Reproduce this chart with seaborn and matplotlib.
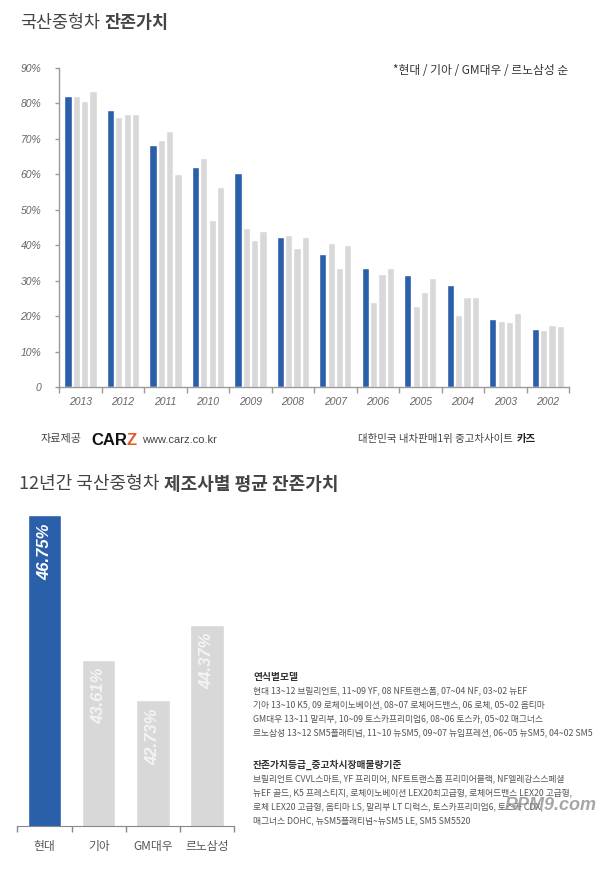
import numpy as np
import pandas as pd
import seaborn as sns
import matplotlib.pyplot as plt

years = ['2013', '2012', '2011', '2010', '2009', '2008', '2007', '2006', '2005', '2004', '2003', '2002']
makers = ['현대', '기아', 'GM대우', '르노삼성']
hyundai = [81.9, 78.2, 68.2, 61.9, 60.3, 42.2, 37.5, 33.5, 31.6, 28.7, 19.3, 16.4]
kia = [81.9, 76.0, 69.5, 64.6, 44.8, 43.0, 40.6, 23.9, 22.8, 20.3, 18.7, 16.1]
gmdaewoo = [80.7, 76.9, 72.2, 47.2, 41.4, 39.2, 33.7, 31.9, 26.8, 25.4, 18.3, 17.6]
renault = [83.3, 77.1, 60.0, 56.4, 44.0, 42.2, 40.1, 33.7, 30.8, 25.4, 20.8, 17.4]
avg_values = [46.75, 43.61, 42.73, 44.37]
y_ticks = [0, 10, 20, 30, 40, 50, 60, 70, 80, 90]

model_lines = [
    '현대 13~12 브릴리언트, 11~09 YF, 08 NF트랜스폼, 07~04 NF, 03~02 뉴EF',
    '기아 13~10 K5, 09 로체이노베이션, 08~07 로체어드밴스, 06 로체, 05~02 옵티마',
    'GM대우 13~11 말리부, 10~09 토스카프리미엄6, 08~06 토스카, 05~02 매그너스',
    '르노삼성 13~12 SM5플래티넘, 11~10 뉴SM5, 09~07 뉴임프레션, 06~05 뉴SM5, 04~02 SM5',
]
grade_lines = [
    '브릴리언트 CVVL스마트, YF 프리미어, NF트트랜스폼 프리미어블랙, NF엘레강스스페셜',
    '뉴EF 골드, K5 프레스티지, 로체이노베이션 LEX20최고급형, 로체어드밴스 LEX20 고급형,',
    '로체 LEX20 고급형, 옵티마 LS, 말리부 LT 디럭스, 토스카프리미엄6, 토스카 CDX,',
    '매그너스 DOHC, 뉴SM5플래티넘~뉴SM5 LE, SM5 SM5520',
]

BLUE = '#2A5FA9'
GRAY = '#D8D8D8'
AXIS = '#9A9A9A'
TXT = '#555555'

sns.set_style('white')
plt.rcParams['font.family'] = ['Noto Sans CJK KR', 'DejaVu Sans']

W, H = 600, 874
fig = plt.figure(figsize=(6, 8.74), dpi=100)
renderer = fig.canvas.get_renderer()


def fx(px):
    return px / W


def fy(py):
    return 1 - py / H


def draw_pieces(x_px, y_px, pieces, size, gap=0):
    # texts with different weights/colours one after another
    x = x_px
    for txt, weight, color in pieces:
        t = fig.text(fx(x), fy(y_px), txt, fontsize=size, fontweight=weight,
                     color=color, ha='left', va='center')
        bb = t.get_window_extent(renderer=renderer)
        x = bb.x1 + gap


# ---- top chart ----
df = pd.DataFrame({
    'year': years * 4,
    'maker': np.repeat(makers, len(years)),
    'value': hyundai + kia + gmdaewoo + renault,
})

ax = fig.add_axes([fx(59.3), fy(387.3), fx(569) - fx(59.3), (387.3 - 67.7) / H])
sns.barplot(data=df, x='year', y='value', hue='maker', order=years, hue_order=makers,
            palette=[BLUE, GRAY, GRAY, GRAY], saturation=1, width=0.785, gap=0.14,
            legend=False, ax=ax)
ax.set_xlim(-0.5, len(years) - 0.5)
ax.set_ylim(0, 90)
ax.set_xlabel('')
ax.set_ylabel('')
sns.despine(ax=ax)
for s in ['left', 'bottom']:
    ax.spines[s].set_color(AXIS)
    ax.spines[s].set_linewidth(1)

ax.set_xticks(np.arange(-0.5, len(years), 1))
ax.set_xticklabels([])
ax.set_xticks(range(len(years)), minor=True)
ax.set_xticklabels(years, minor=True, fontsize=7.5, style='italic',
                   family='Liberation Sans', color='#666666')
ax.tick_params(axis='x', which='major', length=4, width=1, color=AXIS, bottom=True)
ax.tick_params(axis='x', which='minor', length=0, pad=7)
ax.set_yticks(y_ticks)
ax.set_yticklabels(['0'] + [f'{v}%' for v in y_ticks[1:]], fontsize=7.5, style='italic',
                   family='Liberation Sans', color='#666666')
ax.tick_params(axis='y', length=3, width=1, color=AXIS, left=True, pad=10)

draw_pieces(20, 23, [('국산중형차', 'normal', '#444444'), ('잔존가치', 'bold', '#444444')], 12.5, gap=5)
fig.text(fx(568), fy(70), '*현대 / 기아 / GM대우 / 르노삼성 순', fontsize=8.5,
         color='#333333', ha='right', va='center')

# footer
draw_pieces(41, 439, [('자료제공', 'normal', '#444444')], 8)
t1 = fig.text(fx(91), fy(440), 'CAR', fontsize=12, fontweight='heavy',
              family='Liberation Sans', color='#111111', ha='left', va='center')
bb = t1.get_window_extent(renderer=renderer)
t2 = fig.text(fx(bb.x1), fy(440), 'Z', fontsize=12, fontweight='heavy',
              family='Liberation Sans', color='#E8562A', ha='left', va='center')
bb = t2.get_window_extent(renderer=renderer)
fig.text(fx(bb.x1 + 5), fy(440), 'www.carz.co.kr', fontsize=8,
         family='Liberation Sans', color='#444444', ha='left', va='center')
draw_pieces(358, 439, [('대한민국 내차판매1위 중고차사이트', 'normal', '#444444'),
                       ('카즈', 'bold', '#222222')], 7.5, gap=4)

# ---- bottom chart ----
draw_pieces(19, 484, [('12년간 국산중형차', 'normal', '#444444'),
                      ('제조사별 평균 잔존가치', 'bold', '#444444')], 13, gap=5)

ax2 = fig.add_axes([fx(17.3), fy(826), fx(234.3) - fx(17.3), 322 / H])
sns.barplot(x=makers, y=avg_values, hue=makers, palette=[BLUE, GRAY, GRAY, GRAY],
            saturation=1, width=0.62, legend=False, ax=ax2)
ax2.set_xlim(-0.5, len(makers) - 0.5)
ax2.set_ylim(40, 47)
ax2.set_yticks([])
ax2.set_xlabel('')
ax2.set_ylabel('')
sns.despine(ax=ax2, left=True)
ax2.spines['bottom'].set_color('#888888')
ax2.set_xticks(np.arange(-0.5, len(makers), 1))
ax2.set_xticklabels([])
ax2.set_xticks(range(len(makers)), minor=True)
ax2.set_xticklabels(makers, minor=True, fontsize=8.5, color=TXT)
ax2.tick_params(axis='x', which='major', length=4, width=1, color='#888888', bottom=True)
ax2.tick_params(axis='x', which='minor', length=0, pad=10)

for i, v in enumerate(avg_values):
    ax2.text(i, v - 0.17, f'{v:.2f}%', rotation=90, ha='center', va='top',
             fontsize=12, fontweight='bold', style='italic', family='Liberation Sans',
             color='white' if i == 0 else '#F4F4F4')

# notes
fig.text(fx(253), fy(677), '연식별모델', fontsize=7, fontweight='bold', color='#333333', va='center')
for k, line in enumerate(model_lines):
    fig.text(fx(253), fy(691 + 14 * k), line, fontsize=6.3, color=TXT, va='center')
fig.text(fx(253), fy(765), '잔존가치등급_중고차시장매물량기준', fontsize=7, fontweight='bold',
         color='#333333', va='center')
for k, line in enumerate(grade_lines):
    fig.text(fx(253), fy(779 + 14 * k), line, fontsize=6.3, color=TXT, va='center')

# watermark (sits over the notes like in the source image)
fig.text(fx(505), fy(806), 'RPM9.com', fontsize=13, fontweight='bold', style='italic',
         family='Liberation Sans', color='#8A8A8A', alpha=0.75, ha='left', va='center')

fig.savefig('out.png', dpi=100)
